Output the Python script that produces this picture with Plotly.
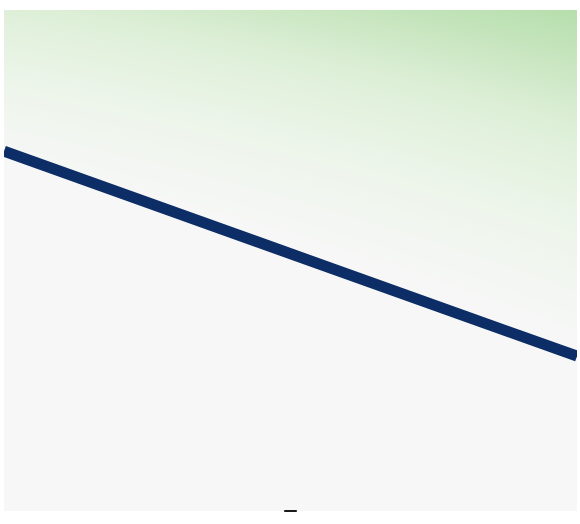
import plotly.graph_objects as go

# Line series (straight trend line)
line_x = [0, 1]
line_y = [0.718, 0.309]

# Background gradient intensity sampled at the four plot corners
grad_x = [0, 1]
grad_y = [0, 1]
grad_z = [[-1.35, -0.50],   # bottom-left, bottom-right
          [0.62, 1.0]]      # top-left, top-right

# Small dash marker at the bottom centre
dash_x = [0.5]
dash_y = [0.0]

fig = go.Figure()
fig.add_trace(go.Heatmap(
    x=grad_x, y=grad_y, z=grad_z,
    zsmooth="best", zmin=0, zmax=1,
    colorscale=[[0, "#f7f7f7"], [0.35, "#edf5ea"], [0.65, "#ddefd7"],
                [1, "#b6deac"]],
    showscale=False, hoverinfo="skip"))
fig.add_trace(go.Scatter(
    x=line_x, y=line_y, mode="lines",
    fill="tozeroy", fillcolor="#f7f7f7",
    line=dict(color="#0d2d66", width=11),
    showlegend=False, hoverinfo="skip"))
fig.add_trace(go.Scatter(
    x=dash_x, y=dash_y, mode="markers", cliponaxis=False,
    marker=dict(symbol="line-ew", size=9, line=dict(color="#1a1a1a", width=2)),
    showlegend=False, hoverinfo="skip"))

fig.update_layout(
    width=580, height=524,
    margin=dict(l=4, r=3, t=10, b=13),
    paper_bgcolor="white", plot_bgcolor="#f7f7f7",
    showlegend=False,
    xaxis=dict(range=[0, 1], visible=False),
    yaxis=dict(range=[0, 1], visible=False),
)
fig.write_html("out.html", config={"displayModeBar": False},
               post_script="document.body.style.margin='0';")
